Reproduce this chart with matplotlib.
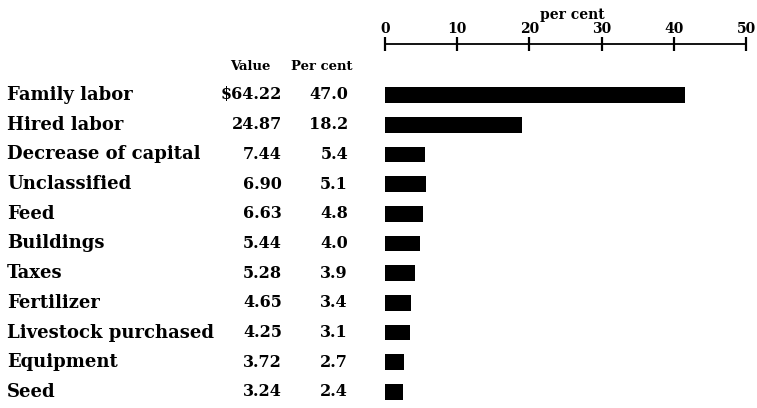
import matplotlib
matplotlib.use("Agg")
import matplotlib.pyplot as plt
from matplotlib.transforms import blended_transform_factory

categories = ['Family labor', 'Hired labor', 'Decrease of capital', 'Unclassified',
              'Feed', 'Buildings', 'Taxes', 'Fertilizer', 'Livestock purchased',
              'Equipment', 'Seed']
values = ['$64.22', '24.87', '7.44', '6.90', '6.63', '5.44', '5.28', '4.65',
          '4.25', '3.72', '3.24']
per_cent = ['47.0', '18.2', '5.4', '5.1', '4.8', '4.0', '3.9', '3.4', '3.1', '2.7', '2.4']
# bar lengths as drawn on the original scale
bar_lengths = [41.5, 19.0, 5.5, 5.7, 5.2, 4.8, 4.1, 3.6, 3.5, 2.7, 2.5]
ticks = [0, 10, 20, 30, 40, 50]

W, H = 757, 408
fig = plt.figure(figsize=(W / 100, H / 100), dpi=100)
ax = fig.add_axes([385 / W, 0, (746 - 385) / W, (H - 44) / H])

rows = list(range(len(categories)))
ax.barh(rows, bar_lengths, height=0.53, color='black')
ax.set_xlim(0, 50)
ax.set_ylim(10.54, -1.717)

for s in ['right', 'bottom', 'left']:
    ax.spines[s].set_visible(False)
ax.spines['top'].set_linewidth(1.3)
ax.xaxis.tick_top()
ax.set_xticks(ticks)
ax.tick_params(axis='x', direction='inout', length=10, width=1.6, pad=1)
ax.set_yticks([])
for lab in ax.get_xticklabels():
    lab.set_fontfamily('DejaVu Serif')
    lab.set_fontweight('bold')
    lab.set_fontsize(10)
ax.text(25.9, -2.69, 'per cent', ha='center', va='center', clip_on=False,
        fontfamily='DejaVu Serif', fontweight='bold', fontsize=10)

tr = blended_transform_factory(fig.transFigure, ax.transData)
num = dict(fontfamily='DejaVu Serif', fontweight='bold', fontsize=11.5, va='center',
           transform=tr, clip_on=False)
for i in rows:
    ax.text(7 / W, i, categories[i], ha='left', **dict(num, fontsize=13))
    ax.text(282 / W, i, values[i], ha='right', **num)
    ax.text(348 / W, i, per_cent[i], ha='right', **num)

hdr = dict(fontfamily='DejaVu Serif', fontweight='bold', fontsize=9.5, va='center',
           ha='center', transform=tr, clip_on=False)
ax.text(250 / W, -0.97, 'Value', **hdr)
ax.text(322 / W, -0.97, 'Per cent', **hdr)

fig.savefig('out.png', dpi=100)
